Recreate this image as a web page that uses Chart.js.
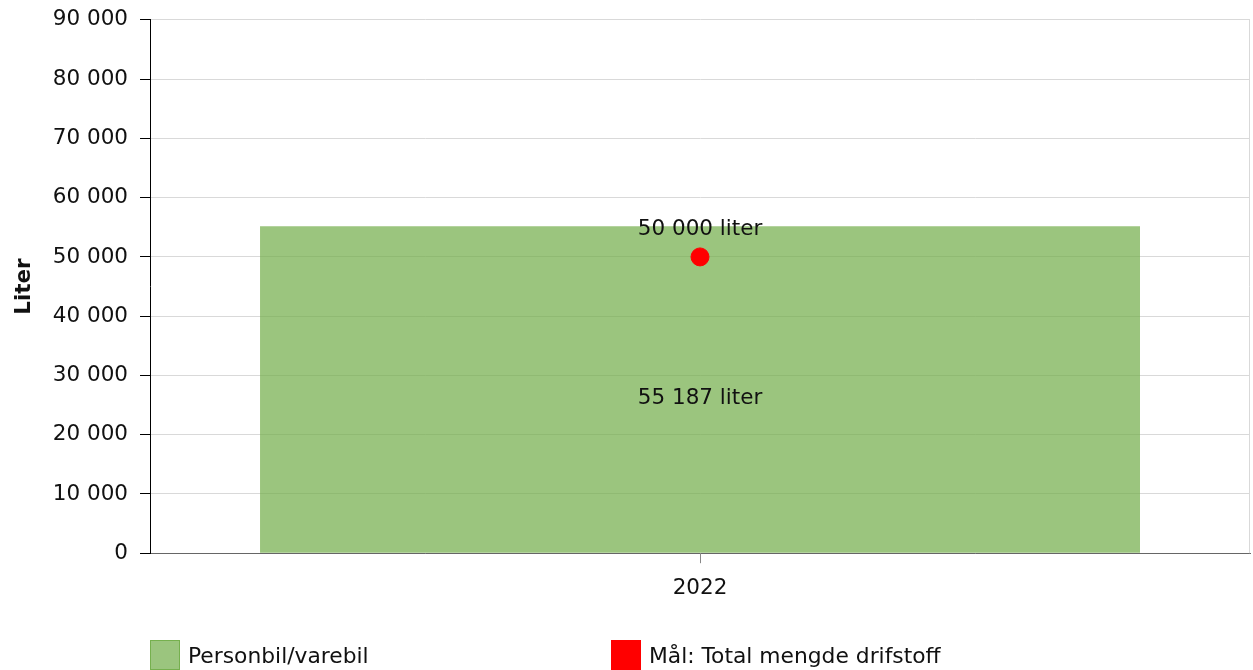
<!DOCTYPE html>
<html>
<head>
<meta charset="utf-8">
<script src="https://cdn.jsdelivr.net/npm/chart.js@4/dist/chart.umd.min.js"></script>
<style>
  body { margin: 0; background: #fff; font-family: "DejaVu Sans", sans-serif; }
  #wrap { position: relative; width: 1253px; height: 670px; overflow: hidden; }
  #chart { position: absolute; left: 0; top: -5px; }
  #legend { position: absolute; top: 640px; left: 150px; font-size: 21.8px; color: #111; }
  .item { position: absolute; top: 0; white-space: nowrap; display: flex; align-items: center; }
  .box { width: 28px; height: 28px; margin-right: 8px; border: 1px solid; }
</style>
</head>
<body>
<div id="wrap">
  <canvas id="chart" width="1260" height="675"></canvas>
  <div id="legend"></div>
</div>
<script>
const years = ['2022'];
const barLabel = 'Personbil/varebil';
const barValues = [55187];
const targetLabel = 'Mål: Total mengde drifstoff';
const targetValues = [50000];
const yTicks = [0, 10000, 20000, 30000, 40000, 50000, 60000, 70000, 80000, 90000];

const fmt = v => v.toString().replace(/\B(?=(\d{3})+(?!\d))/g, ' ');
const FONT = 21.5;

// labels for the bar and the target point
const valueLabels = {
  id: 'valueLabels',
  afterDatasetsDraw(chart) {
    const ctx = chart.ctx;
    ctx.save();
    ctx.font = FONT + 'px "DejaVu Sans"';
    ctx.fillStyle = '#111';
    ctx.textAlign = 'center';
    ctx.textBaseline = 'middle';
    chart.getDatasetMeta(1).data.forEach((bar, i) => {
      ctx.fillText(fmt(barValues[i]) + ' liter', bar.x, (bar.y + bar.base) / 2 + 9);
    });
    chart.getDatasetMeta(0).data.forEach((pt, i) => {
      ctx.fillText(fmt(targetValues[i]) + ' liter', pt.x, pt.y - 28);
    });
    ctx.restore();
  }
};

// thin right edge of the plot area
const rightEdge = {
  id: 'rightEdge',
  beforeDatasetsDraw(chart) {
    const a = chart.chartArea, ctx = chart.ctx;
    ctx.save();
    ctx.strokeStyle = '#d9d9d9';
    ctx.lineWidth = 1;
    ctx.beginPath();
    ctx.moveTo(a.right - 0.5, a.top);
    ctx.lineTo(a.right - 0.5, a.bottom);
    ctx.stroke();
    ctx.restore();
  }
};

const chart = new Chart(document.getElementById('chart'), {
  type: 'bar',
  data: {
    labels: years,
    datasets: [
      {
        type: 'line',
        label: targetLabel,
        data: targetValues,
        showLine: false,
        pointRadius: 9,
        pointHoverRadius: 9,
        pointBackgroundColor: '#ff0000',
        pointBorderColor: '#ff0000',
        backgroundColor: '#ff0000',
        order: 0
      },
      {
        label: barLabel,
        data: barValues,
        backgroundColor: 'rgba(112,173,71,0.7)',
        borderWidth: 0,
        barPercentage: 0.8,
        categoryPercentage: 1,
        order: 1
      }
    ]
  },
  options: {
    responsive: false,
    animation: false,
    layout: { padding: { top: 3, right: 0, bottom: 57, left: 0 } },
    plugins: {
      legend: { display: false },
      tooltip: { enabled: false }
    },
    scales: {
      x: {
        grid: { offset: false, drawOnChartArea: false, tickColor: '#888', tickLength: 10 },
        border: { color: '#666', width: 1 },
        ticks: { color: '#111', font: { family: 'DejaVu Sans', size: FONT }, padding: 12 }
      },
      y: {
        min: 0,
        max: 90000,
        afterBuildTicks: axis => { axis.ticks = yTicks.map(v => ({ value: v })); },
        grid: { color: '#d9d9d9', tickColor: '#000', tickLength: 10 },
        border: { color: '#000', width: 1 },
        ticks: { color: '#111', font: { family: 'DejaVu Sans', size: FONT }, padding: 12, callback: v => fmt(v) },
        title: { display: true, text: 'Liter', color: '#111', font: { family: 'DejaVu Sans', size: FONT, weight: 'bold' }, padding: { top: 12, bottom: 3 } }
      }
    }
  },
  plugins: [valueLabels, rightEdge]
});

// legend in two fixed columns
const legend = document.getElementById('legend');
[[barLabel, 'rgba(112,173,71,0.7)', 'rgba(112,173,71,0.85)', 0], [targetLabel, '#ff0000', '#ff0000', 461]].forEach(([text, fill, line, left]) => {
  const item = document.createElement('div');
  item.className = 'item';
  item.style.left = left + 'px';
  item.innerHTML = '<span class="box" style="background:' + fill + ';border-color:' + line + '"></span><span>' + text + '</span>';
  legend.appendChild(item);
});
</script>
</body>
</html>
